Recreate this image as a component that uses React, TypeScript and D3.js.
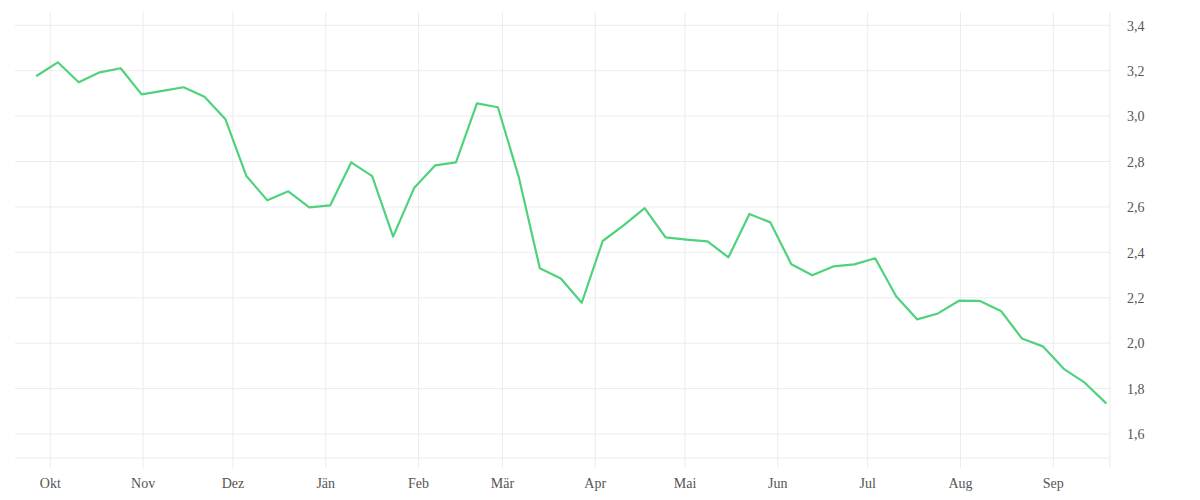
import * as d3 from "d3";

// weekly readings, Sep 2022 – Sep 2023
const weekDates = [
  "2022-09-26", "2022-10-03", "2022-10-10", "2022-10-17", "2022-10-24",
  "2022-10-31", "2022-11-07", "2022-11-14", "2022-11-21", "2022-11-28",
  "2022-12-05", "2022-12-12", "2022-12-19", "2022-12-26", "2023-01-02",
  "2023-01-09", "2023-01-16", "2023-01-23", "2023-01-30", "2023-02-06",
  "2023-02-13", "2023-02-20", "2023-02-27", "2023-03-06", "2023-03-13",
  "2023-03-20", "2023-03-27", "2023-04-03", "2023-04-10", "2023-04-17",
  "2023-04-24", "2023-05-01", "2023-05-08", "2023-05-15", "2023-05-22",
  "2023-05-29", "2023-06-05", "2023-06-12", "2023-06-19", "2023-06-26",
  "2023-07-03", "2023-07-10", "2023-07-17", "2023-07-24", "2023-07-31",
  "2023-08-07", "2023-08-14", "2023-08-21", "2023-08-28", "2023-09-04",
  "2023-09-11", "2023-09-18"
];

const weekValues = [
  3.178, 3.237, 3.149, 3.193, 3.211, 3.096, 3.111, 3.127, 3.085, 2.986,
  2.736, 2.629, 2.669, 2.598, 2.607, 2.796, 2.736, 2.469, 2.683, 2.783,
  2.796, 3.056, 3.039, 2.730, 2.330, 2.285, 2.178, 2.450, 2.519, 2.595,
  2.466, 2.456, 2.448, 2.378, 2.569, 2.532, 2.348, 2.299, 2.338, 2.347,
  2.374, 2.207, 2.105, 2.131, 2.187, 2.186, 2.142, 2.021, 1.986, 1.887,
  1.826, 1.737
];

const monthLabels = ["Jän", "Feb", "Mär", "Apr", "Mai", "Jun", "Jul", "Aug", "Sep", "Okt", "Nov", "Dez"];

const width = 1200;
const height = 500;
const plotLeft = 15;
const plotRight = 1110;
const plotTop = 12;
const plotBottom = 458;
const tickOverhang = 10;
const gridColor = "#ececec";
const lineColor = "#4fd27c";
const labelColor = "#555";
const labelSize = 14;

const deLocale = d3.formatLocale({
  decimal: ",",
  thousands: ".",
  grouping: [3],
  currency: ["", " €"]
});
const formatValue = deLocale.format(".1f");

function parseDay(s: string) {
  const [y, m, d] = s.split("-").map(Number);
  return new Date(y, m - 1, d, 12);
}

export default function App() {
  const points = weekDates.map((d, i) => ({ date: parseDay(d), value: weekValues[i] }));

  const xScale = d3
    .scaleTime()
    .domain([new Date(2022, 9, 1), new Date(2023, 8, 1)])
    .range([50.3, 1053.3]);

  const yScale = d3.scaleLinear().domain([1.6, 3.4]).range([434, 25.3]);

  const monthTicks = xScale.ticks(d3.timeMonth.every(1)!);
  const valueTicks = yScale.ticks(10);

  const line = d3
    .line<{ date: Date; value: number }>()
    .x((d) => xScale(d.date))
    .y((d) => yScale(d.value));

  return (
    <svg
      width={width}
      height={height}
      style={{ display: "block", position: "absolute", left: 0, top: 0 }}
    >
      <rect width={width} height={height} fill="#fff" />
      {valueTicks.map((t) => (
        <line
          key={`h-${t}`}
          x1={plotLeft}
          x2={plotRight}
          y1={yScale(t)}
          y2={yScale(t)}
          stroke={gridColor}
          strokeWidth={1}
        />
      ))}
      <line
        x1={plotLeft}
        x2={plotRight}
        y1={plotBottom}
        y2={plotBottom}
        stroke={gridColor}
        strokeWidth={1}
      />
      {monthTicks.map((t) => (
        <line
          key={`v-${t.getTime()}`}
          x1={xScale(t)}
          x2={xScale(t)}
          y1={plotTop}
          y2={plotBottom + tickOverhang}
          stroke={gridColor}
          strokeWidth={1}
        />
      ))}
      <line
        x1={plotRight}
        x2={plotRight}
        y1={plotTop}
        y2={plotBottom + tickOverhang}
        stroke={gridColor}
        strokeWidth={1}
      />
      <path
        d={line(points) ?? ""}
        fill="none"
        stroke={lineColor}
        strokeWidth={2.2}
        strokeLinejoin="round"
        strokeLinecap="round"
      />
      {monthTicks.map((t) => (
        <text
          key={`ml-${t.getTime()}`}
          x={xScale(t)}
          y={488}
          textAnchor="middle"
          fontSize={labelSize}
          fill={labelColor}
        >
          {monthLabels[t.getMonth()]}
        </text>
      ))}
      {valueTicks.map((t) => (
        <text
          key={`vl-${t}`}
          x={1127}
          y={yScale(t) + 2}
          dominantBaseline="middle"
          fontSize={labelSize}
          fill={labelColor}
        >
          {formatValue(t)}
        </text>
      ))}
    </svg>
  );
}
